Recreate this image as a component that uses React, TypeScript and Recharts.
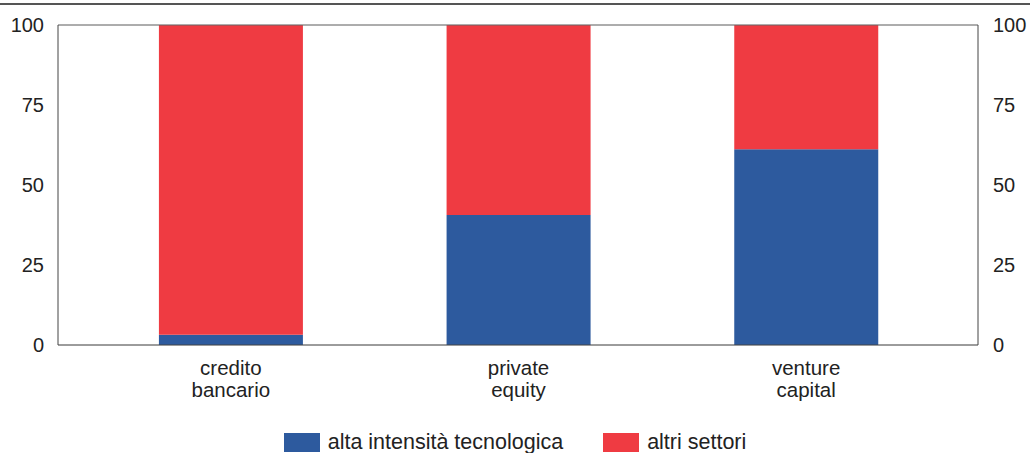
import { ComposedChart, Bar, Line, XAxis, YAxis, CartesianGrid, Legend, ReferenceLine } from "recharts";

const categories = ["credito\nbancario", "private\nequity", "venture\ncapital"];
const altaTech = [3.2, 40.6, 61.2];
const altriSettori = [96.8, 59.4, 38.8];
const yTicks = [0, 25, 50, 75, 100];

const BLUE = "#2D5A9E";
const RED = "#EF3B42";
const FONT = "'Liberation Sans', Arial, sans-serif";

const data = categories.map((name, i) => ({
  name,
  alta: altaTech[i],
  altri: altriSettori[i],
  total: altaTech[i] + altriSettori[i],
}));

const CategoryTick = ({ x, y, payload }: any) => {
  const lines = String(payload.value).split("\n");
  return (
    <text x={x} y={y} textAnchor="middle" fill="#222" fontSize={20.5} fontFamily={FONT}>
      {lines.map((l, i) => (
        <tspan key={i} x={x} dy={22}>
          {l}
        </tspan>
      ))}
    </text>
  );
};

const LegendBox = () => {
  const items = [
    { label: "alta intensità tecnologica", color: BLUE },
    { label: "altri settori", color: RED },
  ];
  return (
    <div style={{ display: "flex", justifyContent: "center", gap: 40, fontFamily: FONT, fontSize: 21.5, color: "#222", height: 22 }}>
      {items.map((it) => (
        <div key={it.label} style={{ display: "flex", alignItems: "center" }}>
          <span style={{ width: 36, height: 19, background: it.color, marginRight: 8, display: "inline-block" }} />
          <span>{it.label}</span>
        </div>
      ))}
    </div>
  );
};

const App = () => {
  return (
    <div style={{ position: "absolute", left: 0, top: 0, width: 1030, height: 453, background: "#fff" }}>
      <div style={{ position: "absolute", left: 0, top: 3, width: 1030, height: 0, borderTop: "2px solid #555" }} />
      <ComposedChart
        width={1030}
        height={453}
        data={data}
        margin={{ top: 25, right: 0, bottom: 0, left: 0 }}
        barCategoryGap="25%"
      >
        <CartesianGrid vertical={false} stroke="#e6e6e6" />
        <XAxis
          dataKey="name"
          height={86}
          tick={<CategoryTick />}
          tickLine={false}
          axisLine={{ stroke: "#444" }}
          interval={0}
          padding={{ left: 29, right: 28 }}
        />
        <YAxis
          yAxisId="left"
          width={58}
          domain={[0, 100]}
          ticks={yTicks}
          tickLine={false}
          tickMargin={8}
          axisLine={{ stroke: "#444" }}
          tick={{ fill: "#222", fontSize: 20, fontFamily: FONT }}
        />
        <YAxis
          yAxisId="right"
          orientation="right"
          width={52}
          domain={[0, 100]}
          ticks={yTicks}
          tickLine={false}
          tickMargin={9}
          axisLine={{ stroke: "#444" }}
          tick={{ fill: "#222", fontSize: 20, fontFamily: FONT }}
        />
        <ReferenceLine yAxisId="left" y={100} stroke="#666" />
        <Bar yAxisId="left" dataKey="alta" stackId="a" fill={BLUE} isAnimationActive={false} />
        <Bar yAxisId="left" dataKey="altri" stackId="a" fill={RED} isAnimationActive={false} />
        <Line
          yAxisId="right"
          dataKey="total"
          stroke="none"
          dot={false}
          activeDot={false}
          legendType="none"
          isAnimationActive={false}
        />
        <Legend verticalAlign="bottom" content={<LegendBox />} />
      </ComposedChart>
    </div>
  );
};

export default App;
